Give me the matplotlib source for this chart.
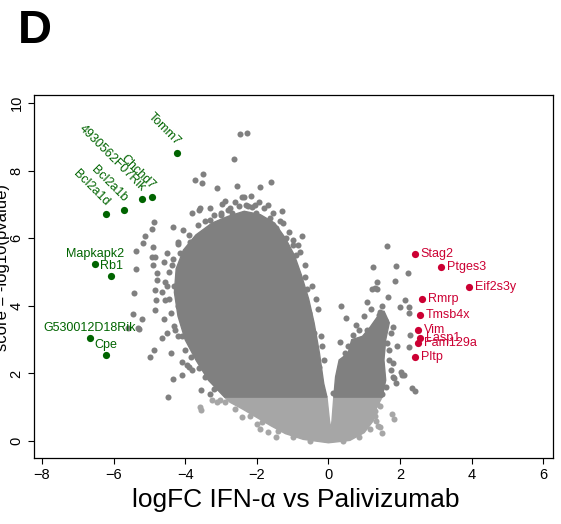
import matplotlib.pyplot as plt
from matplotlib.patches import Polygon

# dense part of the cloud (logFC, -log10 p)
core_left = [(-0.04, 1.3), (-0.13, 1.7), (-0.25, 2.6), (-0.4, 3.5), (-0.55, 4.2), (-0.75, 4.9),
             (-0.95, 5.5), (-1.2, 6.0), (-1.5, 6.45), (-1.9, 6.7), (-2.35, 6.8), (-2.8, 6.65),
             (-3.25, 6.45), (-3.7, 6.1), (-4.05, 5.65), (-4.25, 5.1), (-4.3, 4.4), (-4.2, 3.7),
             (-4.0, 3.0), (-3.7, 2.4), (-3.35, 1.8), (-2.9, 1.3)]
core_right = [(0.15, 1.3), (0.2, 1.9), (0.3, 2.4), (0.55, 2.6), (0.65, 3.0), (0.95, 3.1),
              (1.15, 3.35), (1.35, 3.65), (1.55, 3.85), (1.7, 3.5), (1.6, 3.0), (1.55, 2.4),
              (1.6, 1.8), (1.5, 1.3)]
core_ns = [(-2.9, 1.3), (-2.75, 1.15), (-2.4, 0.95), (-2.0, 0.7), (-1.6, 0.45), (-1.2, 0.22),
           (-0.7, 0.05), (0.0, -0.05), (0.6, 0.02), (1.0, 0.25), (1.25, 0.6), (1.35, 1.0),
           (1.5, 1.3), (0.15, 1.3), (0.1, 0.6), (0.07, 0.35), (0.03, 0.6), (-0.04, 1.3)]

# scattered genes outside the dense part
sig_x = [-2.47, -2.27, -2.63, -3.72, -3.5, -3.53, -3.12, -2.56, -1.91, -1.6, -2.4, -2.35, -2.97,
         -3.59, -3.81, -4.87, -4.34, -4.93, -5.12, -5.17, -4.9, -5.37, -4.93, -4.85, -4.51, -4.9,
         -5.37, -4.79, -4.79, -4.84, -5.42, -4.82, -4.84, -5.45, -5.2, -5.59, -5.31, -4.65, -4.86,
         -4.98, -4.28, -5.3, -4.34, -4.48, -4.09, -3.81, -4.09, -3.89,
         -1.94, -2.6, -2.3, -3.62, -2.8, -2.13, -2.02, -1.63, -1.27, -0.74, -1.18, -0.99, -0.65,
         -4.2, -4.14, -3.86, -4.06, -4.37, -4.56, -4.56, -3.3, -3.0, -2.7, -2.15, -1.45, -0.9,
         -0.6, -0.55, -0.4, -0.25, -4.3, -4.2, -4.1, -3.7, -3.4, -3.1, -3.55, -3.3,
         -1.35, -1.55, -1.8, -2.05, -2.25, -2.5, -2.75, -3.0, -3.2, -3.45, -3.65, -3.9, -1.1,
         -0.85, -1.7, -2.9, -3.3, -2.15, -1.3,
         -4.2, -4.35, -4.45, -4.5, -4.45, -4.4, -4.3, -4.2, -4.0, -3.85, -3.6, -3.45, -3.2,
         -4.65, -4.6, -4.5, -4.6, -4.4, -3.95,
         -0.45, -0.3, -0.2, -0.12, -0.65, -0.8, -1.0, -0.35, -0.18,
         1.64, 1.24, 1.89, 2.23, 1.86, 1.36, 1.22, 1.3, 1.36, 1.67, 1.08, 2.14, 0.35, 1.44, 1.4,
         2.0, 2.25, 2.25, 0.99, 0.49, 1.58, 1.81, 0.77, 1.08, 1.36, 0.32, 0.69, 2.28, 1.92, 2.25,
         1.64, 1.44, 2.06, 2.03, 1.81, 2.34, 0.27, 0.13, 2.42, 2.1, 1.83, 1.89, 1.2, 1.5, 0.9,
         1.7, 1.75, 1.6, 1.5, 0.45, 0.4, 1.75, 1.7, 1.8, 0.85, 0.55]
sig_y = [9.08, 9.11, 8.34, 7.72, 7.9, 7.63, 7.49, 7.54, 7.52, 7.66, 7.22, 7.22, 7.01,
         6.89, 6.75, 6.48, 6.33, 6.27, 6.07, 5.86, 5.74, 5.62, 5.44, 5.44, 5.56, 5.21,
         5.09, 4.97, 4.76, 4.47, 4.38, 4.17, 3.88, 3.76, 3.61, 3.34, 3.34, 3.05, 2.69,
         2.49, 3.28, 3.31, 1.83, 1.3, 1.95, 2.1, 2.34, 2.19,
         7.07, 7.07, 6.98, 6.83, 6.83, 6.92, 6.75, 6.6, 6.45, 6.07, 6.0, 5.8, 4.85,
         5.83, 5.56, 5.89, 6.24, 5.21, 4.7, 4.17, 6.55, 6.7, 6.75, 6.65, 6.3, 5.5,
         4.5, 3.8, 3.2, 2.2, 4.6, 4.0, 3.1, 2.8, 2.0, 1.6, 1.5, 1.4,
         6.5, 6.75, 6.9, 7.0, 6.95, 6.95, 6.9, 6.75, 6.7, 6.5, 6.4, 6.1, 6.2,
         5.8, 7.0, 7.1, 6.9, 7.25, 6.8,
         5.9, 5.4, 5.0, 4.6, 4.2, 3.8, 3.4, 3.1, 2.7, 2.5, 2.15, 1.9, 1.55,
         4.4, 3.6, 3.2, 5.3, 2.6, 2.25,
         4.6, 3.9, 3.1, 2.4, 5.2, 5.6, 5.95, 4.2, 2.8,
         5.77, 5.15, 5.18, 4.97, 4.73, 4.7, 4.5, 4.52, 4.5, 4.26, 4.11, 4.17, 3.99, 3.82, 3.72,
         3.96, 3.96, 3.78, 3.7, 3.64, 3.58, 3.37, 3.43, 3.28, 3.43, 2.93, 3.14, 3.14, 2.81, 2.78,
         2.9, 2.63, 1.95, 2.05, 1.89, 1.57, 1.66, 1.42, 1.48, 1.95, 1.86, 1.72, 3.9, 4.0, 3.0,
         2.4, 2.1, 1.6, 1.4, 2.6, 2.2, 3.2, 2.7, 2.3, 3.3, 2.8]
ns_x = [-3.59, -3.25, -3.03, -3.55, -1.68, -1.46, 1.83, 1.38, 1.49, 1.78, 1.33, 1.44,
        -2.4, -2.0, -1.9, 1.3, 1.35, -2.9,
        -2.6, -2.2, -1.85, -1.4, -1.0, -0.5, 0.4, 0.85, 1.15, 1.3, 1.45, -3.1]
ns_y = [1.01, 1.21, 1.21, 0.92, 0.27, 0.12, 0.65, 0.44, 0.24, 0.8, 0.59, 0.41,
        0.7, 0.5, 0.35, 0.9, 1.1, 1.15,
        0.95, 0.75, 0.55, 0.3, 0.12, 0.0, 0.0, 0.12, 0.35, 0.75, 1.05, 1.15]

# labelled genes
down_genes = ['Tomm7', 'Chchd7', '4930562F07Rik', 'Bcl2a1b', 'Bcl2a1d']
down_x = [-4.23, -4.93, -5.2, -5.7, -6.22]
down_y = [8.52, 7.22, 7.16, 6.83, 6.72]
down2_genes = ['Mapkapk2', 'Rb1', 'G530012D18Rik', 'Cpe']
down2_x = [-6.52, -6.07, -6.66, -6.22]
down2_y = [5.24, 4.88, 3.05, 2.54]
up_genes = ['Stag2', 'Ptges3', 'Eif2s3y', 'Rmrp', 'Tmsb4x', 'Vim', 'Lasp1', 'Fam129a', 'Pltp']
up_x = [2.42, 3.15, 3.93, 2.62, 2.56, 2.5, 2.56, 2.5, 2.42]
up_y = [5.53, 5.15, 4.56, 4.2, 3.73, 3.28, 3.05, 2.9, 2.49]

DARK = '#808080'
LIGHT = '#a6a6a6'
GREEN = '#006400'
RED = '#cc0033'


def Draw():
    plt.rcParams['font.family'] = ['Liberation Sans', 'DejaVu Sans']
    fig = plt.figure(figsize=(5.61, 5.24), dpi=100)
    ax = fig.add_axes([0.0606, 0.126, 0.9251, 0.6927])

    ax.add_patch(Polygon(core_ns, closed=True, fc=LIGHT, ec=LIGHT, lw=1))
    ax.add_patch(Polygon(core_left, closed=True, fc=DARK, ec=DARK, lw=1))
    ax.add_patch(Polygon(core_right, closed=True, fc=DARK, ec=DARK, lw=1))
    ax.scatter(ns_x, ns_y, s=19, c=LIGHT, linewidths=0)
    ax.scatter(sig_x, sig_y, s=19, c=DARK, linewidths=0)

    ax.scatter(down_x, down_y, s=27, c=GREEN, linewidths=0, zorder=3)
    ax.scatter(down2_x, down2_y, s=27, c=GREEN, linewidths=0, zorder=3)
    ax.scatter(up_x, up_y, s=27, c=RED, linewidths=0, zorder=3)

    for g, x, y in zip(down_genes, down_x, down_y):
        ax.annotate(g, (x, y), xytext=(-2, 4), textcoords='offset points', rotation=-45,
                    rotation_mode='anchor', ha='right', va='bottom', color=GREEN, fontsize=9)
    for g, x, y in zip(down2_genes, down2_x, down2_y):
        ax.annotate(g, (x, y), xytext=(0, 3), textcoords='offset points',
                    ha='center', va='bottom', color=GREEN, fontsize=9)
    for g, x, y in zip(up_genes, up_x, up_y):
        ax.annotate(g, (x, y), xytext=(4, 0), textcoords='offset points',
                    ha='left', va='center', color=RED, fontsize=9)

    ax.set_xlim(-8.22, 6.27)
    ax.set_ylim(-0.5, 10.24)
    ax.set_xticks(range(-8, 7, 2))
    ax.set_yticks(range(0, 11, 2))
    ax.tick_params(direction='out', length=4.5, width=0.8, labelsize=10.5, pad=3)
    for lab in ax.get_yticklabels():
        lab.set_rotation(90)
        lab.set_va('center')
    for sp in ax.spines.values():
        sp.set_linewidth(0.9)

    fig.text(0.528, 0.046, 'logFC IFN-\u03b1 vs Palivizumab', ha='center', va='center', fontsize=19)
    fig.text(0.004, 0.489, 'score = -log10(pvalue)', rotation=90, ha='center', va='center', fontsize=12)
    fig.text(0.032, 0.94, 'D', ha='left', va='center', fontsize=34, fontweight='bold')

    fig.savefig('out.png', dpi=100)


def main():
    Draw()


if __name__ == "__main__":
    main()
